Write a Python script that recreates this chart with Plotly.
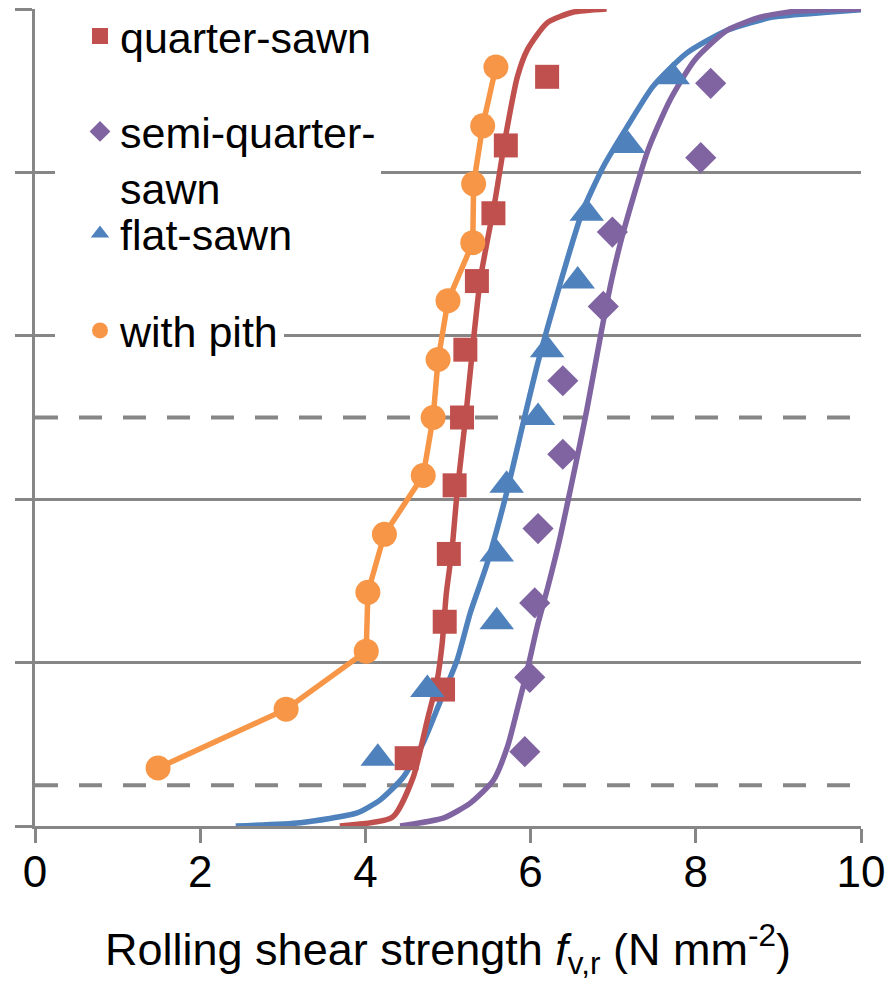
import plotly.graph_objects as go

# ---------------- data ----------------
quarter_x = [4.50, 4.94, 4.96, 5.01, 5.08, 5.17, 5.21, 5.35, 5.55, 5.70, 6.20]
quarter_y = [0.083, 0.167, 0.250, 0.333, 0.417, 0.500, 0.583, 0.667, 0.750, 0.833, 0.917]

semi_x = [5.93, 5.99, 6.05, 6.09, 6.39, 6.39, 6.88, 6.99, 8.06, 8.18]
semi_y = [0.091, 0.182, 0.273, 0.364, 0.455, 0.545, 0.636, 0.727, 0.818, 0.909]

flat_x = [4.15, 4.75, 5.59, 5.59, 5.71, 6.09, 6.20, 6.57, 6.68, 7.18, 7.72]
flat_y = [0.083, 0.167, 0.250, 0.333, 0.417, 0.500, 0.583, 0.667, 0.750, 0.833, 0.917]

pith_x = [1.49, 3.04, 4.01, 4.03, 4.23, 4.70, 4.82, 4.88, 5.00, 5.30, 5.31, 5.42, 5.58]
pith_y = [0.071, 0.143, 0.214, 0.286, 0.357, 0.429, 0.500, 0.571, 0.643, 0.714, 0.786, 0.857, 0.929]

# fitted distribution curves
quarter_fit_x = [3.69, 4.33, 4.58, 4.75, 4.87, 4.93, 4.98, 5.05, 5.11, 5.21, 5.39, 5.57, 5.69, 5.84, 5.96, 6.20, 6.51, 6.92]
quarter_fit_y = [0.000, 0.011, 0.060, 0.130, 0.179, 0.224, 0.285, 0.340, 0.408, 0.497, 0.668, 0.766, 0.840, 0.917, 0.950, 0.983, 0.996, 1.000]

semi_fit_x = [4.42, 4.95, 5.27, 5.55, 5.72, 5.86, 5.96, 6.08, 6.21, 6.35, 6.48, 6.60, 6.68, 6.86, 6.98, 7.12, 7.42, 7.69, 7.99, 8.38, 8.78, 9.18, 9.59, 10.0]
semi_fit_y = [0.000, 0.010, 0.028, 0.056, 0.097, 0.151, 0.191, 0.244, 0.293, 0.350, 0.411, 0.469, 0.509, 0.607, 0.668, 0.726, 0.827, 0.889, 0.938, 0.974, 0.990, 0.997, 0.999, 1.000]

flat_fit_x = [2.43, 3.21, 3.90, 4.18, 4.46, 4.70, 4.90, 5.11, 5.27, 5.47, 5.71, 5.91, 6.07, 6.23, 6.39, 6.62, 6.88, 7.17, 7.48, 7.89, 8.38, 8.93, 9.59, 10.0]
flat_fit_y = [0.000, 0.004, 0.016, 0.032, 0.060, 0.102, 0.151, 0.203, 0.261, 0.320, 0.408, 0.493, 0.560, 0.619, 0.675, 0.750, 0.807, 0.856, 0.905, 0.946, 0.974, 0.990, 0.996, 0.999]

reference_levels = [0.05, 0.5]

series_names = ["quarter-sawn", "semi-quarter-<br>sawn", "flat-sawn", "with pith"]
x_tick_values = [0, 2, 4, 6, 8, 10]
x_tick_labels = ["0", "2", "4", "6", "8", "10"]
x_title = "Rolling shear strength <i>f</i><sub>v,r</sub> (N mm<sup>-2</sup>)"

# ---------------- style ----------------
RED = "#C0504D"
PURPLE = "#8064A2"
BLUE = "#4F81BD"
ORANGE = "#F79646"
GRID = "#868686"
FONT = "Liberation Sans, Arial, sans-serif"
LW = 5.5

# the page body adds an 8px offset; the figure is sized so that it fits the window
OFF = 8
FIG_W = 893 - 2 * OFF
FIG_H = 989 - 2 * OFF
PLOT_L, PLOT_R, PLOT_T, PLOT_B = 35 - OFF, 861 - OFF, 9 - OFF, 826 - OFF

fig = go.Figure()

# fitted curves (no legend)
fig.add_trace(go.Scatter(x=flat_fit_x, y=flat_fit_y, mode="lines", showlegend=False,
                         line=dict(color=BLUE, width=LW, shape="spline", smoothing=0.6), hoverinfo="skip"))
fig.add_trace(go.Scatter(x=semi_fit_x, y=semi_fit_y, mode="lines", showlegend=False,
                         line=dict(color=PURPLE, width=LW, shape="spline", smoothing=0.6), hoverinfo="skip"))
fig.add_trace(go.Scatter(x=quarter_fit_x, y=quarter_fit_y, mode="lines", showlegend=False,
                         line=dict(color=RED, width=LW, shape="spline", smoothing=0.6), hoverinfo="skip"))
fig.add_trace(go.Scatter(x=pith_x, y=pith_y, mode="lines", showlegend=False,
                         line=dict(color=ORANGE, width=LW), hoverinfo="skip"))

# markers (with legends)
fig.add_trace(go.Scatter(x=quarter_x, y=quarter_y, mode="markers", name=series_names[0],
                         marker=dict(symbol="square", size=24, color=RED), legend="legend"))
fig.add_trace(go.Scatter(x=semi_x, y=semi_y, mode="markers", name=series_names[1],
                         marker=dict(symbol="diamond", size=24, color=PURPLE), legend="legend2"))
fig.add_trace(go.Scatter(x=flat_x, y=flat_y, mode="markers", name=series_names[2],
                         marker=dict(symbol="triangle-up", size=30, color=BLUE), legend="legend3"))
fig.add_trace(go.Scatter(x=pith_x, y=pith_y, mode="markers", name=series_names[3],
                         marker=dict(symbol="circle", size=25, color=ORANGE), legend="legend4"))

# dashed reference levels
for lev in reference_levels:
    fig.add_shape(type="line", xref="paper", x0=0, x1=1, yref="y", y0=lev, y1=lev,
                  line=dict(color=GRID, width=4, dash="23px,21px"), layer="below")

LEG_OFFSET = 37  # distance from legend top to first text line centre


def legend_y(page_center):
    top = page_center - OFF - LEG_OFFSET
    return 1 - top / FIG_H


legend_common = dict(
    xref="container", yref="container",
    xanchor="left", yanchor="top", borderwidth=0,
    font=dict(family=FONT, size=43, color="#000000"), valign="top",
    x=(55 - OFF) / FIG_W, indentation=25, itemclick=False, itemdoubleclick=False,
)

fig.update_layout(
    width=FIG_W, height=FIG_H,
    margin=dict(l=PLOT_L, r=FIG_W - PLOT_R, t=PLOT_T, b=FIG_H - PLOT_B, pad=0, autoexpand=False),
    paper_bgcolor="white", plot_bgcolor="white",
    font=dict(family=FONT, color="#000000"),
    legend=dict(legend_common, y=1 - (36 - OFF) / FIG_H, yanchor="middle", bgcolor="rgba(0,0,0,0)"),
    legend2=dict(legend_common, y=legend_y(134), bgcolor="white"),
    legend3=dict(legend_common, y=legend_y(236), bgcolor="rgba(0,0,0,0)"),
    legend4=dict(legend_common, y=legend_y(333), bgcolor="white"),
    xaxis=dict(
        range=[0, 10], tickmode="array", tickvals=x_tick_values, ticktext=x_tick_labels,
        showgrid=False, zeroline=False, showline=True, linecolor=GRID, linewidth=3,
        ticks="outside", ticklen=14, tickwidth=3, tickcolor=GRID,
        tickfont=dict(family=FONT, size=44, color="#000000"), ticklabelstandoff=-9,
        ticklabeloverflow="allow", automargin=False,
        title=dict(text=x_title, font=dict(family=FONT, size=45, color="#000000"), standoff=49),
    ),
    yaxis=dict(
        range=[0, 1], dtick=0.2, tick0=0, showticklabels=False, automargin=False,
        showgrid=True, gridcolor=GRID, gridwidth=3, zeroline=False,
        showline=True, linecolor=GRID, linewidth=3,
        ticks="outside", ticklen=17, tickwidth=3, tickcolor=GRID,
    ),
)

fig.write_html("out.html")
